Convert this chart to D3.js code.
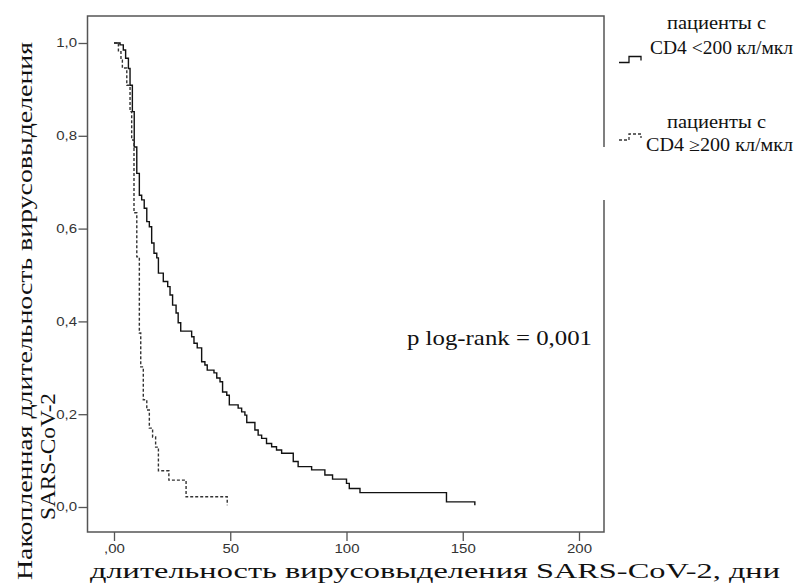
<!DOCTYPE html>
<html>
<head>
<meta charset="utf-8">
<script src="https://d3js.org/d3.v7.min.js"></script>
<style>
  body { margin: 0; background: #fff; }
  text { font-family: "Liberation Serif", "Times New Roman", serif; fill: #111; }
  .tick text { font-family: "Liberation Sans", Arial, sans-serif; fill: #333; font-size: 12px; }
</style>
</head>
<body>
<div id="chart"></div>
<script>
// CD4 < 200 (solid line): time in days, cumulative proportion still shedding
var lowDays = [0, 2.6, 4.0, 5.0, 6.2, 6.9, 7.9, 8.7, 9.8, 10.9, 11.9, 13.0, 14.1, 15.2, 16.2, 17.2, 18.4, 19.1, 21.2, 23.1,
  24.1, 25.2, 26.7, 27.6, 28.7, 33.4, 34.4, 35.8, 37.7, 39.1, 40.1, 43.0, 44.2, 45.6, 46.7, 48.5, 49.6, 53.4, 54.9, 56.3,
  57.1, 60.6, 62.0, 63.5, 65.6, 67.8, 69.9, 72.1, 77.1, 79.2, 85.0, 90.7, 94.0, 100.0, 101.2, 105.8, 143.0, 155.2];
var lowSurv = [1.0, 0.996, 0.985, 0.967, 0.945, 0.909, 0.852, 0.776, 0.719, 0.672, 0.662, 0.644, 0.615, 0.604, 0.569, 0.547, 0.537, 0.504, 0.486, 0.475,
  0.457, 0.435, 0.418, 0.397, 0.379, 0.367, 0.353, 0.343, 0.313, 0.306, 0.295, 0.289, 0.278, 0.270, 0.248, 0.241, 0.220, 0.213, 0.205, 0.198,
  0.182, 0.166, 0.155, 0.148, 0.137, 0.130, 0.123, 0.116, 0.098, 0.087, 0.080, 0.069, 0.060, 0.051, 0.040, 0.031, 0.011, 0.004];

// CD4 >= 200 (dashed line)
var highDays = [0, 1.9, 3.0, 3.6, 5.5, 6.9, 7.6, 8.6, 9.8, 10.9, 11.5, 12.6, 14.1, 15.2, 16.6, 17.9, 19.1, 23.6, 31.0, 48.7];
var highSurv = [1.0, 0.981, 0.963, 0.946, 0.909, 0.852, 0.791, 0.634, 0.539, 0.375, 0.302, 0.231, 0.209, 0.170, 0.151, 0.129, 0.078, 0.058, 0.022, 0.004];

var xTicks = [0, 50, 100, 150, 200];
var xTickLabels = [",00", "50", "100", "150", "200"];
var yTicks = [0, 0.2, 0.4, 0.6, 0.8, 1.0];
var yTickLabels = ["0,0", "0,2", "0,4", "0,6", "0,8", "1,0"];

var legendTitle = "пациенты с";
var legendNames = ["CD4 <200 кл/мкл", "CD4 ≥200 кл/мкл"];

var W = 797, H = 585;
var frame = { left: 87.5, right: 604, top: 16, bottom: 532 };

var svg = d3.select("#chart").append("svg")
  .attr("width", W).attr("height", H);

var x = d3.scaleLinear().domain([0, 200]).range([114, 579]);
var y = d3.scaleLinear().domain([0, 1]).range([507, 43]);

// frame (the legend box hides part of the right side)
var frameColor = "#555";
svg.append("path")
  .attr("fill", "none")
  .attr("stroke", frameColor)
  .attr("stroke-width", 1.5)
  .attr("d", "M" + frame.right + "," + 147 + "V" + frame.top + "H" + frame.left +
             "V" + frame.bottom + "H" + frame.right + "V" + 200);

// axes
var xAxis = svg.append("g")
  .attr("transform", "translate(0," + frame.bottom + ")")
  .call(d3.axisBottom(x).tickValues(xTicks).tickSize(9).tickPadding(3)
    .tickFormat((d, i) => xTickLabels[i]));
xAxis.select(".domain").remove();
xAxis.selectAll(".tick line").attr("stroke", frameColor).attr("stroke-width", 1.3);
xAxis.selectAll(".tick text").attr("transform", "scale(1.25,1)");

var yAxis = svg.append("g")
  .attr("transform", "translate(" + frame.left + ",0)")
  .call(d3.axisLeft(y).tickValues(yTicks).tickSize(9).tickPadding(1)
    .tickFormat((d, i) => yTickLabels[i]));
yAxis.select(".domain").remove();
yAxis.selectAll(".tick line").attr("stroke", frameColor).attr("stroke-width", 1.3);
yAxis.selectAll(".tick text").attr("x", -8.4).attr("transform", "scale(1.25,1)");

// survival curves
var step = d3.line()
  .x(d => x(d[0]))
  .y(d => y(d[1]))
  .curve(d3.curveStepAfter);

svg.append("path")
  .datum(d3.zip(lowDays, lowSurv))
  .attr("fill", "none")
  .attr("stroke", "#111")
  .attr("stroke-width", 1.4)
  .attr("d", step);

svg.append("path")
  .datum(d3.zip(highDays, highSurv))
  .attr("fill", "none")
  .attr("stroke", "#333")
  .attr("stroke-width", 1.4)
  .attr("stroke-dasharray", "3,2")
  .attr("d", step);

// p value
svg.append("text")
  .attr("x", 407).attr("y", 345)
  .attr("font-size", 21)
  .attr("textLength", 185).attr("lengthAdjust", "spacingAndGlyphs")
  .text("p log-rank = 0,001");

// legend
var legendRows = [
  { top: 29, name: 54, nameX: 650, nameW: 143, sym: 62.5, dash: null },
  { top: 128, name: 151, nameX: 646, nameW: 147, sym: 140, dash: "3,2" }
];
legendRows.forEach(function(r, i) {
  svg.append("text")
    .attr("x", 667).attr("y", r.top)
    .attr("font-size", 18)
    .attr("textLength", 99).attr("lengthAdjust", "spacingAndGlyphs")
    .text(legendTitle);
  svg.append("text")
    .attr("x", r.nameX).attr("y", r.name)
    .attr("font-size", 18)
    .attr("textLength", r.nameW).attr("lengthAdjust", "spacingAndGlyphs")
    .text(legendNames[i]);
  svg.append("path")
    .attr("fill", "none")
    .attr("stroke", i ? "#333" : "#111")
    .attr("stroke-width", 1.3)
    .attr("stroke-dasharray", r.dash)
    .attr("d", "M619," + r.sym + "H629V" + (r.sym - 6) + "H641V" + (r.sym - 2));
});

// axis titles
svg.append("text")
  .attr("x", 90).attr("y", 578)
  .attr("font-size", 22)
  .attr("textLength", 690).attr("lengthAdjust", "spacingAndGlyphs")
  .text("длительность вирусовыделения SARS-CoV-2, дни");

svg.append("text")
  .attr("transform", "translate(32,42) rotate(-90)")
  .attr("text-anchor", "end")
  .attr("font-size", 22)
  .attr("textLength", 538).attr("lengthAdjust", "spacingAndGlyphs")
  .text("Накопленная длительность вирусовыделения");

svg.append("text")
  .attr("transform", "translate(55,393) rotate(-90)")
  .attr("text-anchor", "end")
  .attr("font-size", 22)
  .attr("textLength", 127).attr("lengthAdjust", "spacingAndGlyphs")
  .text("SARS-CoV-2");
</script>
</body>
</html>
